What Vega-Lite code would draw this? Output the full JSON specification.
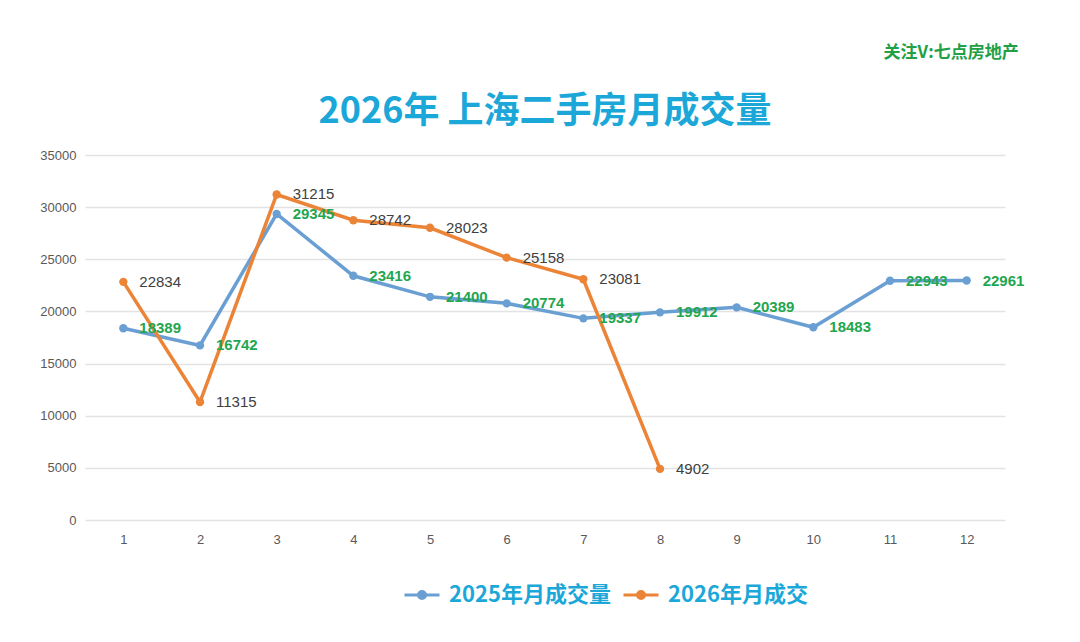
{
  "$schema": "https://vega.github.io/schema/vega-lite/v6.json",
  "width": 920,
  "height": 365,
  "autosize": {"type": "none"},
  "padding": {"left": 85, "top": 155, "right": 75, "bottom": 122},
  "background": "white",
  "config": {
    "view": {"stroke": null},
    "font": "Liberation Sans"
  },
  "title": {
    "text": "2026年 上海二手房月成交量",
    "font": "Noto Sans CJK SC",
    "fontSize": 36,
    "fontWeight": "bold",
    "color": "#1ba8d8",
    "anchor": "middle",
    "offset": -87
  },
  "data": {
    "values": [
      {"month": 1, "series": "2025年月成交量", "value": 18389},
      {"month": 2, "series": "2025年月成交量", "value": 16742},
      {"month": 3, "series": "2025年月成交量", "value": 29345},
      {"month": 4, "series": "2025年月成交量", "value": 23416},
      {"month": 5, "series": "2025年月成交量", "value": 21400},
      {"month": 6, "series": "2025年月成交量", "value": 20774},
      {"month": 7, "series": "2025年月成交量", "value": 19337},
      {"month": 8, "series": "2025年月成交量", "value": 19912},
      {"month": 9, "series": "2025年月成交量", "value": 20389},
      {"month": 10, "series": "2025年月成交量", "value": 18483},
      {"month": 11, "series": "2025年月成交量", "value": 22943},
      {"month": 12, "series": "2025年月成交量", "value": 22961},
      {"month": 1, "series": "2026年月成交", "value": 22834},
      {"month": 2, "series": "2026年月成交", "value": 11315},
      {"month": 3, "series": "2026年月成交", "value": 31215},
      {"month": 4, "series": "2026年月成交", "value": 28742},
      {"month": 5, "series": "2026年月成交", "value": 28023},
      {"month": 6, "series": "2026年月成交", "value": 25158},
      {"month": 7, "series": "2026年月成交", "value": 23081},
      {"month": 8, "series": "2026年月成交", "value": 4902}
    ]
  },
  "encoding": {
    "x": {
      "field": "month",
      "type": "ordinal",
      "title": null,
      "axis": {
        "labelAngle": 0,
        "domain": false,
        "ticks": false,
        "grid": false,
        "labelPadding": 13,
        "labelFontSize": 13,
        "labelColor": "#595959"
      }
    },
    "y": {
      "field": "value",
      "type": "quantitative",
      "title": null,
      "scale": {"domain": [0, 35000], "nice": false},
      "axis": {
        "values": [0, 5000, 10000, 15000, 20000, 25000, 30000, 35000],
        "format": "d",
        "domain": false,
        "ticks": false,
        "gridColor": "#e3e3e3",
        "gridWidth": 1.5,
        "labelPadding": 9,
        "labelFontSize": 13,
        "labelColor": "#595959"
      }
    }
  },
  "layer": [
    {
      "mark": {"type": "line", "strokeWidth": 3.5},
      "encoding": {
        "color": {
          "field": "series",
          "type": "nominal",
          "scale": {"domain": ["2025年月成交量", "2026年月成交"], "range": ["#6a9fd3", "#eb8436"]},
          "legend": {
            "orient": "none",
            "legendX": 318,
            "legendY": 421,
            "direction": "horizontal",
            "title": null,
            "labelFont": "Noto Sans CJK SC",
            "labelFontSize": 22,
            "labelFontWeight": "bold",
            "labelColor": "#1ba8d8",
            "labelLimit": 300,
            "columnPadding": 6,
            "labelOffset": 8,
            "symbolType": "M-1,0L1,0M0.2,0A0.2,0.2,0,1,1,-0.2,0A0.2,0.2,0,1,1,0.2,0Z",
            "symbolSize": 1225,
            "symbolStrokeWidth": 3,
            "encode": {
              "symbols": {"update": {"fill": {"scale": "color", "field": "value"}, "stroke": {"scale": "color", "field": "value"}}}
            }
          }
        }
      }
    },
    {
      "mark": {"type": "point", "filled": true, "size": 70, "opacity": 1},
      "encoding": {
        "color": {"field": "series", "type": "nominal"}
      }
    },
    {
      "transform": [{"filter": "datum.series === '2025年月成交量'"}],
      "mark": {"type": "text", "align": "left", "baseline": "middle", "dx": 16, "fontSize": 15, "fontWeight": "bold", "color": "#1fa64f"},
      "encoding": {"text": {"field": "value", "type": "quantitative", "format": "d"}}
    },
    {
      "transform": [{"filter": "datum.series === '2026年月成交'"}],
      "mark": {"type": "text", "align": "left", "baseline": "middle", "dx": 16, "fontSize": 15, "color": "#404040"},
      "encoding": {"text": {"field": "value", "type": "quantitative", "format": "d"}}
    },
    {
      "data": {"values": [{"month": 12, "value": 35000, "note": "关注V:七点房地产"}]},
      "mark": {"type": "text", "align": "right", "baseline": "middle", "dx": 52, "dy": -102, "font": "Noto Sans CJK SC", "fontSize": 17, "fontWeight": "bold", "color": "#22a046"},
      "encoding": {
        "text": {"field": "note", "type": "nominal"}
      }
    }
  ]
}
